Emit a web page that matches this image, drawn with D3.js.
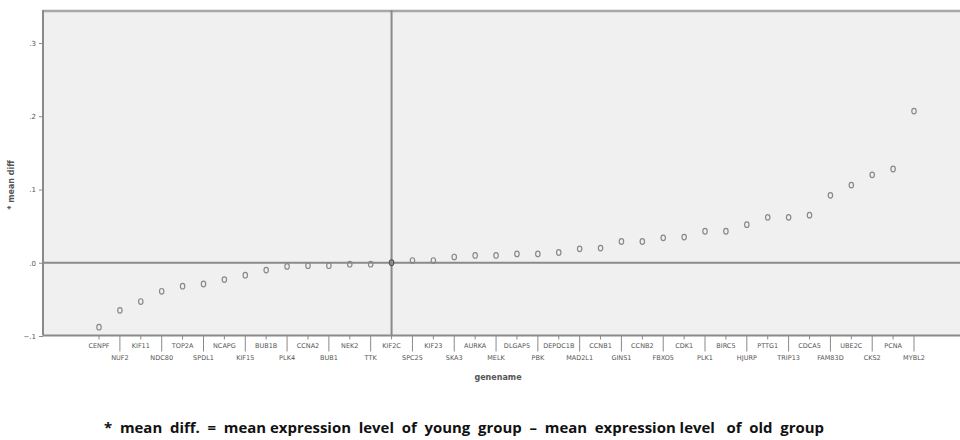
<!DOCTYPE html>
<html>
<head>
<meta charset="utf-8">
<script src="https://cdn.jsdelivr.net/npm/d3@7"></script>
<style>
  body { margin: 0; background: #fff; }
  svg { display: block; }
</style>
</head>
<body>
<div id="chart"></div>
<script>
// genes in sorted order of mean diff
const genes = ["CENPF", "NUF2", "KIF11", "NDC80", "TOP2A", "SPDL1", "NCAPG", "KIF15", "BUB1B", "PLK4",
    "CCNA2", "BUB1", "NEK2", "TTK", "KIF2C", "SPC25", "KIF23", "SKA3", "AURKA", "MELK",
    "DLGAP5", "PBK", "DEPDC1B", "MAD2L1", "CCNB1", "GINS1", "CCNB2", "FBXO5", "CDK1", "PLK1",
    "BIRC5", "HJURP", "PTTG1", "TRIP13", "CDCA5", "FAM83D", "UBE2C", "CKS2", "PCNA", "MYBL2"];
const meanDiff = [-0.088, -0.065, -0.053, -0.039, -0.032, -0.029, -0.023, -0.017, -0.010, -0.005,
    -0.004, -0.004, -0.002, -0.002, 0.000, 0.003, 0.003, 0.008, 0.010, 0.010,
    0.012, 0.012, 0.014, 0.019, 0.020, 0.029, 0.029, 0.034, 0.035, 0.043,
    0.043, 0.052, 0.062, 0.062, 0.065, 0.092, 0.106, 0.120, 0.128, 0.207];
const yTicks = [-0.1, 0, 0.1, 0.2, 0.3];
const refGene = "KIF2C";

const width = 960, height = 440;
const margin = { top: 10, right: 0, bottom: 105, left: 43 };

const svg = d3.select("#chart")
    .append("svg")
    .attr("width", width)
    .attr("height", height);

const x = d3.scalePoint()
    .domain(genes)
    .range([99, 914]);

const y = d3.scaleLinear()
    .domain([-0.1, 0.3])
    .range([336, 43]);

const plotBottom = height - margin.bottom + 0.5;

// plot background
svg.append("rect")
    .attr("x", margin.left)
    .attr("y", margin.top)
    .attr("width", width - margin.left)
    .attr("height", plotBottom - margin.top)
    .attr("fill", "#f0f0f0");

// top frame line
svg.append("line")
    .attr("x1", margin.left).attr("x2", width)
    .attr("y1", margin.top + 1).attr("y2", margin.top + 1)
    .attr("stroke", "#a8a8a8").attr("stroke-width", 2.5);

// reference lines
svg.append("line")
    .attr("x1", margin.left).attr("x2", width)
    .attr("y1", y(0)).attr("y2", y(0))
    .attr("stroke", "#8a8a8a").attr("stroke-width", 2);
svg.append("line")
    .attr("x1", x(refGene)).attr("x2", x(refGene))
    .attr("y1", margin.top).attr("y2", plotBottom)
    .attr("stroke", "#8a8a8a").attr("stroke-width", 2);

// y axis
const yAxis = svg.append("g")
    .attr("transform", `translate(${margin.left},0)`)
    .call(d3.axisLeft(y)
        .tickValues(yTicks)
        .tickSize(4)
        .tickFormat(d => d === 0 ? ".0" : d3.format(".1f")(d).replace("0.", ".")));
yAxis.select(".domain")
    .attr("d", `M0,${margin.top}V${plotBottom}`)
    .attr("stroke", "#8a8a8a").attr("stroke-width", 2);
yAxis.selectAll(".tick line").attr("stroke", "#8a8a8a");
yAxis.selectAll(".tick text")
    .attr("fill", "#555")
    .style("font-family", "DejaVu Sans, sans-serif")
    .style("font-size", "7px");

// x axis baseline
svg.append("line")
    .attr("x1", margin.left).attr("x2", width)
    .attr("y1", plotBottom).attr("y2", plotBottom)
    .attr("stroke", "#8a8a8a").attr("stroke-width", 2);

// x ticks, staggered labels
const xt = svg.append("g")
    .selectAll("g")
    .data(genes)
    .enter()
    .append("g")
    .attr("transform", d => `translate(${x(d)},${plotBottom})`);

xt.append("line")
    .attr("y1", 0)
    .attr("y2", (d, i) => i % 2 === 0 ? 4 : 16)
    .attr("stroke", "#8a8a8a")
    .attr("stroke-width", 1);

xt.append("text")
    .attr("y", (d, i) => i % 2 === 0 ? 12 : 24)
    .attr("text-anchor", "middle")
    .attr("fill", "#555")
    .style("font-family", "DejaVu Sans, sans-serif")
    .style("font-size", "6.5px")
    .text(d => d);

// points (SPSS-style small open markers)
svg.append("g")
    .selectAll("ellipse")
    .data(genes)
    .enter()
    .append("ellipse")
    .attr("cx", d => x(d))
    .attr("cy", (d, i) => y(meanDiff[i]))
    .attr("rx", 2.2)
    .attr("ry", 2.8)
    .attr("fill", "none")
    .attr("stroke", (d) => d === refGene ? "#555" : "#888")
    .attr("stroke-width", 1.2);

// axis titles
svg.append("text")
    .attr("x", 498)
    .attr("y", 380)
    .attr("text-anchor", "middle")
    .attr("fill", "#555")
    .style("font-family", "DejaVu Sans, sans-serif")
    .style("font-size", "8px")
    .style("font-weight", "bold")
    .text("genename");

svg.append("text")
    .attr("transform", "translate(14,185) rotate(-90)")
    .attr("text-anchor", "middle")
    .attr("fill", "#555")
    .style("font-family", "DejaVu Sans, sans-serif")
    .style("font-size", "8px")
    .style("font-weight", "bold")
    .text("* mean diff");

// footnote
svg.append("text")
    .attr("x", 104)
    .attr("y", 433)
    .attr("fill", "#111")
    .style("font-family", "Open Sans, sans-serif")
    .style("font-size", "14.5px")
    .style("font-weight", "bold")
    .attr("textLength", 720)
    .attr("lengthAdjust", "spacingAndGlyphs")
    .style("white-space", "pre")
    .text("*  mean  diff.  =  mean expression  level  of  young  group  –  mean  expression level   of  old  group");
</script>
</body>
</html>
